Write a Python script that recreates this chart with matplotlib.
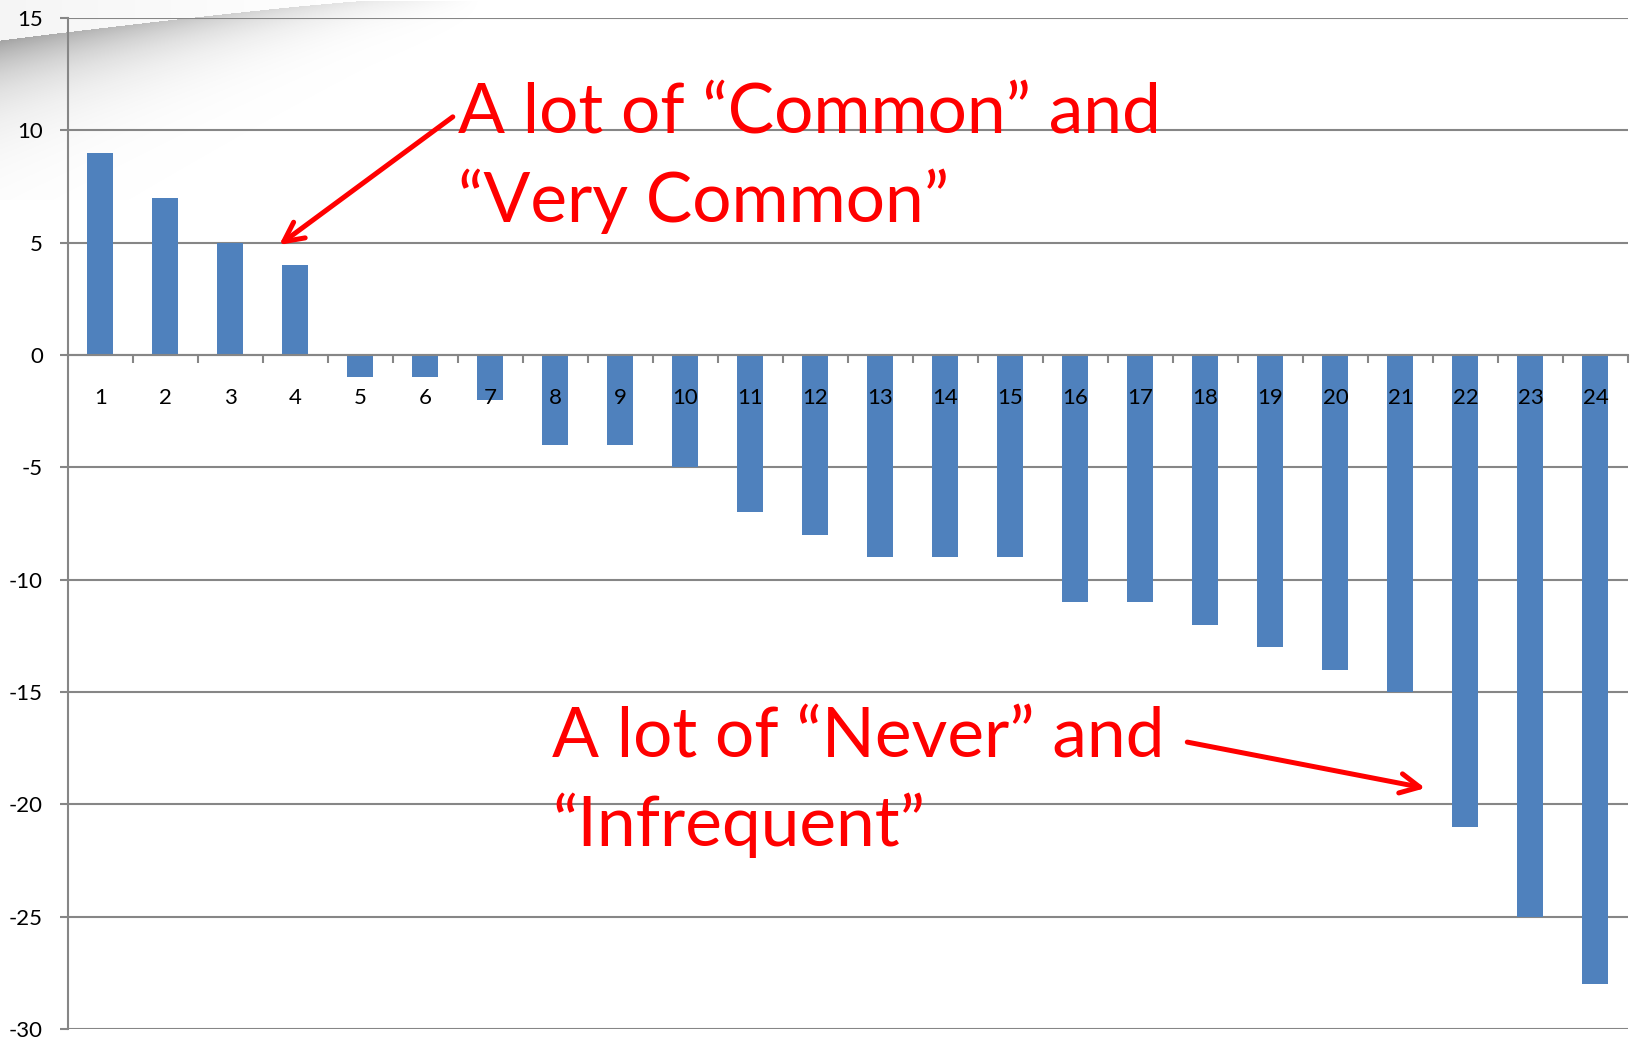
import numpy as np
import matplotlib.pyplot as plt
from matplotlib.ticker import FixedLocator

# bar values
cats = [str(i) for i in range(1, 25)]
vals = [9, 7, 5, 4, -1, -1, -2, -4, -4, -5, -7, -8, -9, -9, -9,
        -11, -11, -12, -13, -14, -15, -21, -25, -28]
yticks = [15, 10, 5, 0, -5, -10, -15, -20, -25, -30]

note_top = ['A lot of \u201cCommon\u201d and', '\u201cVery Common\u201d']
note_bot = ['A lot of \u201cNever\u201d and', '\u201cInfrequent\u201d']

W, H = 1633, 1044
fig = plt.figure(figsize=(W / 100, H / 100), dpi=100)
plt.rcParams['font.family'] = ['Lato', 'DejaVu Sans']
plt.rcParams['axes.unicode_minus'] = False

# slide background swoosh in the top-left corner
bg = fig.add_axes([0, 0, 1, 1], zorder=-1)
yy, xx = np.mgrid[0:200, 0:560].astype(float)
edge = 40 * np.clip(1 - xx / 370, 0, None) ** 1.15
d = yy - edge
a0 = 0.75 * np.clip(1 - xx / 480, 0, None)
w = 45 * np.clip(1 - xx / 600, 0.05, None)
alpha = np.where(d > 0, a0 * np.exp(-d / w), 0.08 * np.clip(1 - xx / 370, 0, None))
rgba = np.zeros((200, 560, 4))
rgba[..., :3] = 0.52
rgba[..., 3] = alpha
bg.imshow(rgba, extent=[0, 560, 200, 0], interpolation='bilinear')
bg.set_xlim(0, W)
bg.set_ylim(H, 0)
bg.axis('off')

ax = fig.add_axes([68 / W, 1 - 1029 / H, 1560 / W, 1011 / H])
ax.patch.set_alpha(0)
x = np.arange(len(vals))
ax.bar(x, vals, width=0.4, color='#4F81BD', zorder=1)

ax.set_xlim(-0.5, len(vals) - 0.5)
ax.set_ylim(-30, 15)
ax.yaxis.set_major_locator(FixedLocator(yticks))
ax.yaxis.grid(True, color='#868686', linewidth=1.5)
ax.yaxis.set_zorder(0.5)
ax.xaxis.set_zorder(3)

for s in ['top', 'right']:
    ax.spines[s].set_visible(False)
ax.spines['bottom'].set_position(('data', 0))
ax.spines['bottom'].set_color('#868686')
ax.spines['bottom'].set_linewidth(1.5)
ax.spines['left'].set_color('#868686')
ax.spines['left'].set_linewidth(1.5)

ax.set_xticks(x)
ax.set_xticklabels(cats)
ax.xaxis.set_minor_locator(FixedLocator(np.arange(0.5, len(vals), 1.0)))
ax.tick_params(axis='x', which='major', length=0, pad=24, labelsize=16)
ax.tick_params(axis='x', which='minor', length=6, width=1.5, color='#868686', direction='out')
ax.tick_params(axis='y', length=6, width=1.5, color='#868686', pad=12, labelsize=16)

# annotations
red = '#FF0000'
ax.text(5.5, 9.88, note_top[0], color=red, fontsize=50, zorder=5)
ax.text(5.5, 5.92, note_top[1], color=red, fontsize=50, zorder=5)
ax.text(6.95, -17.9, note_bot[0], color=red, fontsize=50, zorder=5)
ax.text(6.95, -21.86, note_bot[1], color=red, fontsize=50, zorder=5)

arrow = dict(arrowstyle='->,head_length=1.4,head_width=0.7', color=red, lw=3.6,
             shrinkA=0, shrinkB=0)
ax.annotate('', xy=(2.75, 4.9), xytext=(5.42, 10.6), arrowprops=arrow, zorder=5)
ax.annotate('', xy=(20.38, -19.28), xytext=(16.72, -17.23), arrowprops=arrow, zorder=5)

fig.savefig('out.png', dpi=100)
